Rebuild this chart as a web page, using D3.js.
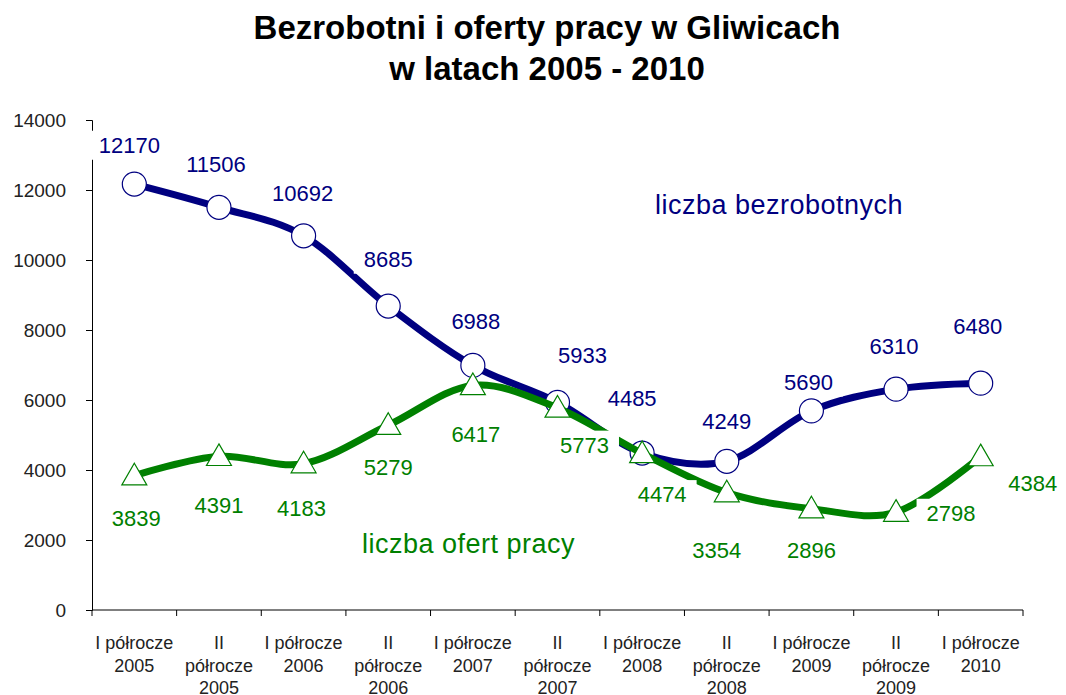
<!DOCTYPE html>
<html>
<head>
<meta charset="utf-8">
<script src="https://cdn.jsdelivr.net/npm/d3@7"></script>
<style>
  body { margin: 0; background: #fff; }
  svg { display: block; }
</style>
</head>
<body>
<svg width="1066" height="695"></svg>
<script>
// data
const categories = [
  'I półrocze 2005', 'II półrocze 2005', 'I półrocze 2006', 'II półrocze 2006',
  'I półrocze 2007', 'II półrocze 2007', 'I półrocze 2008', 'II półrocze 2008',
  'I półrocze 2009', 'II półrocze 2009', 'I półrocze 2010'
];
const unemployed = [12170, 11506, 10692, 8685, 6988, 5933, 4485, 4249, 5690, 6310, 6480];
const jobOffers = [3839, 4391, 4183, 5279, 6417, 5773, 4474, 3354, 2896, 2798, 4384];
const yTicks = [0, 2000, 4000, 6000, 8000, 10000, 12000, 14000];

// label placement (dx, dy from the point)
const blueLabelOffsets = [[-5, -39], [-3, -43], [-1, -42], [0, -47], [3, -44], [25, -47],
  [-10, -55], [0, -40], [-3, -29], [-2, -43], [-3, -57]];
const greenLabelOffsets = [[2, 43], [0, 49], [-2, 45], [0, 42], [3, 49], [27, 37],
  [20, 41], [-10, 58], [0, 42], [55, 1], [52, 27]];

const BLUE = '#000080';
const GREEN = '#008000';

const svg = d3.select('svg');
const MARGIN = { TOP: 120, LEFT: 92, RIGHT: 1023, BOTTOM: 610 };

const x = d3.scaleBand().domain(categories).range([MARGIN.LEFT, MARGIN.RIGHT]);
const y = d3.scaleLinear().domain([0, 14000]).range([MARGIN.BOTTOM, MARGIN.TOP]);
const cx = d => x(d) + x.bandwidth() / 2;

// title
const title = svg.append('text')
  .attr('x', 547)
  .attr('text-anchor', 'middle')
  .style('font', 'bold 33px "Liberation Sans", Arial, sans-serif')
  .style('fill', '#000');
title.append('tspan').attr('x', 547).attr('y', 39).text('Bezrobotni i oferty pracy w Gliwicach');
title.append('tspan').attr('x', 547).attr('y', 80).text('w latach 2005 - 2010');

// y axis
const yAxis = svg.append('g')
  .attr('transform', `translate(${MARGIN.LEFT},0)`)
  .call(d3.axisLeft(y).tickValues(yTicks).tickSize(6).tickPadding(20).tickFormat(d3.format('d')));
yAxis.selectAll('text')
  .style('font', '19px "Liberation Sans", Arial, sans-serif')
  .style('fill', '#222');

// x axis: ticks on band boundaries
const xAxis = svg.append('g').attr('transform', `translate(0,${MARGIN.BOTTOM})`);
xAxis.append('line')
  .attr('x1', MARGIN.LEFT).attr('x2', MARGIN.RIGHT)
  .attr('stroke', '#000');
const bounds = categories.map(c => x(c)).concat([MARGIN.RIGHT]);
xAxis.selectAll('.xtick')
  .data(bounds)
  .enter()
  .append('line')
  .attr('class', 'xtick')
  .attr('x1', d => d).attr('x2', d => d)
  .attr('y1', 0).attr('y2', 6)
  .attr('stroke', '#000');

const xLabels = xAxis.selectAll('.xlabel')
  .data(categories)
  .enter()
  .append('text')
  .attr('class', 'xlabel')
  .attr('text-anchor', 'middle')
  .attr('y', 39)
  .style('font', '18px "Liberation Sans", Arial, sans-serif')
  .style('fill', '#222');

// wrap tick labels to the band width, like the original
xLabels.each(function (d) {
  const text = d3.select(this);
  const words = d.split(' ');
  const maxW = x.bandwidth() - 2;
  const lines = [];
  let line = [];
  const probe = text.append('tspan');
  words.forEach(w => {
    probe.text(line.concat([w]).join(' '));
    if (line.length && probe.node().getComputedTextLength() > maxW) {
      lines.push(line.join(' '));
      line = [w];
    } else {
      line.push(w);
    }
  });
  lines.push(line.join(' '));
  probe.remove();
  lines.forEach((l, i) => {
    text.append('tspan')
      .attr('x', cx(d))
      .attr('dy', i === 0 ? 0 : 22.5)
      .text(l);
  });
});

// lines
const line = d3.line()
  .x((d, i) => cx(categories[i]))
  .y(d => y(d))
  .curve(d3.curveCardinal.tension(0));

svg.append('path')
  .datum(unemployed)
  .attr('d', line)
  .attr('fill', 'none')
  .attr('stroke', BLUE)
  .attr('stroke-width', 7)
  .attr('stroke-linejoin', 'round');

svg.selectAll('.dot')
  .data(unemployed)
  .enter()
  .append('circle')
  .attr('class', 'dot')
  .attr('cx', (d, i) => cx(categories[i]))
  .attr('cy', d => y(d))
  .attr('r', 12)
  .attr('fill', '#fff')
  .attr('stroke', BLUE)
  .attr('stroke-width', 1.2);

svg.append('path')
  .datum(jobOffers)
  .attr('d', line)
  .attr('fill', 'none')
  .attr('stroke', GREEN)
  .attr('stroke-width', 7)
  .attr('stroke-linejoin', 'round');

const tri = d3.symbol().type(d3.symbolTriangle).size(270);
svg.selectAll('.tri')
  .data(jobOffers)
  .enter()
  .append('path')
  .attr('class', 'tri')
  .attr('d', tri)
  .attr('transform', (d, i) => `translate(${cx(categories[i])},${y(d) + 2})`)
  .attr('fill', '#fff')
  .attr('stroke', GREEN)
  .attr('stroke-width', 1.2);

// value labels with white boxes
function addLabels(values, offsets, color) {
  const g = svg.append('g');
  values.forEach((v, i) => {
    const lx = cx(categories[i]) + offsets[i][0];
    const ly = y(v) + offsets[i][1];
    const t = g.append('text')
      .attr('x', lx)
      .attr('y', ly)
      .attr('text-anchor', 'middle')
      .attr('dy', '0.35em')
      .style('font', '22px "Liberation Sans", Arial, sans-serif')
      .style('fill', color)
      .text(v);
    const bb = t.node().getBBox();
    g.insert('rect', () => t.node())
      .attr('x', bb.x - 10)
      .attr('y', bb.y - 2)
      .attr('width', bb.width + 20)
      .attr('height', bb.height + 4)
      .attr('fill', '#fff');
  });
}
addLabels(unemployed, blueLabelOffsets, BLUE);
addLabels(jobOffers, greenLabelOffsets, GREEN);

// series names
svg.append('text')
  .attr('x', 655)
  .attr('y', 214)
  .style('font', '27px "Liberation Sans", Arial, sans-serif')
  .style('letter-spacing', '0.5px')
  .style('fill', BLUE)
  .text('liczba bezrobotnych');

svg.append('text')
  .attr('x', 362)
  .attr('y', 553)
  .style('font', '27px "Liberation Sans", Arial, sans-serif')
  .style('letter-spacing', '0.5px')
  .style('fill', GREEN)
  .text('liczba ofert pracy');
</script>
</body>
</html>
